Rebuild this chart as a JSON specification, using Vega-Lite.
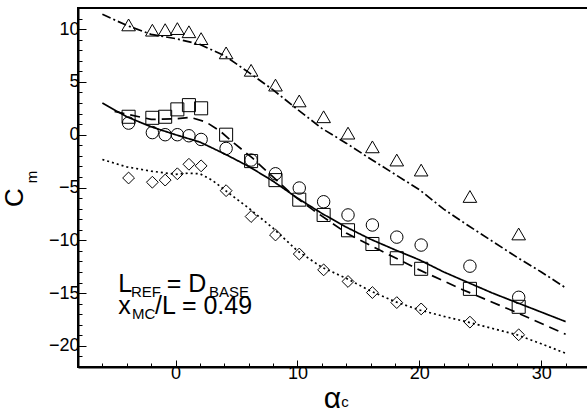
{
  "$schema": "https://vega.github.io/schema/vega-lite/v6.json",
  "width": 512,
  "height": 359,
  "autosize": {"type": "none"},
  "padding": {"left": 78, "top": 8, "right": 0, "bottom": 52},
  "background": "white",
  "config": {"view": {"stroke": "black", "strokeWidth": 2}, "font": "Liberation Sans"},
  "resolve": {"axis": {"x": "independent", "y": "independent"}},
  "datasets": {
    "lines": [
      {"s": "dd", "a": -6, "c": 11.4}, {"s": "dd", "a": -4, "c": 10.35}, {"s": "dd", "a": -2, "c": 9.5}, {"s": "dd", "a": 0, "c": 9.1}, {"s": "dd", "a": 2, "c": 8.55}, {"s": "dd", "a": 4, "c": 7.5}, {"s": "dd", "a": 6, "c": 5.9}, {"s": "dd", "a": 8, "c": 4.25}, {"s": "dd", "a": 10, "c": 2.4}, {"s": "dd", "a": 12, "c": 0.6}, {"s": "dd", "a": 14, "c": -0.8}, {"s": "dd", "a": 16, "c": -2.3}, {"s": "dd", "a": 18, "c": -3.75}, {"s": "dd", "a": 20, "c": -5.2}, {"s": "dd", "a": 22, "c": -7.05}, {"s": "dd", "a": 24, "c": -8.6}, {"s": "dd", "a": 26, "c": -10.1}, {"s": "dd", "a": 28, "c": -11.6}, {"s": "dd", "a": 30, "c": -13.0}, {"s": "dd", "a": 32, "c": -14.5},
      {"s": "solid", "a": -6, "c": 3.0}, {"s": "solid", "a": -4, "c": 1.7}, {"s": "solid", "a": -2, "c": 0.75}, {"s": "solid", "a": 0, "c": 0.0}, {"s": "solid", "a": 2, "c": -0.7}, {"s": "solid", "a": 4, "c": -1.8}, {"s": "solid", "a": 6, "c": -3.0}, {"s": "solid", "a": 8, "c": -4.4}, {"s": "solid", "a": 10, "c": -6.0}, {"s": "solid", "a": 12, "c": -7.45}, {"s": "solid", "a": 14, "c": -8.75}, {"s": "solid", "a": 16, "c": -9.9}, {"s": "solid", "a": 18, "c": -10.9}, {"s": "solid", "a": 20, "c": -11.85}, {"s": "solid", "a": 22, "c": -13.0}, {"s": "solid", "a": 24, "c": -14.0}, {"s": "solid", "a": 26, "c": -15.0}, {"s": "solid", "a": 28, "c": -15.9}, {"s": "solid", "a": 30, "c": -16.8}, {"s": "solid", "a": 32, "c": -17.7},
      {"s": "dash", "a": -5, "c": 2.2}, {"s": "dash", "a": -2, "c": 1.45}, {"s": "dash", "a": 0, "c": 1.5}, {"s": "dash", "a": 1.2, "c": 1.65}, {"s": "dash", "a": 2.5, "c": 1.2}, {"s": "dash", "a": 3.7, "c": 0.3}, {"s": "dash", "a": 4.8, "c": -0.8}, {"s": "dash", "a": 6.3, "c": -2.2}, {"s": "dash", "a": 8, "c": -4.0}, {"s": "dash", "a": 9.6, "c": -5.7}, {"s": "dash", "a": 11.25, "c": -7.1}, {"s": "dash", "a": 14, "c": -9.3}, {"s": "dash", "a": 16.7, "c": -10.9}, {"s": "dash", "a": 20, "c": -12.8}, {"s": "dash", "a": 23.6, "c": -14.7}, {"s": "dash", "a": 27.7, "c": -16.7}, {"s": "dash", "a": 32, "c": -18.9},
      {"s": "dot", "a": -6, "c": -2.35}, {"s": "dot", "a": -4, "c": -3.05}, {"s": "dot", "a": -2, "c": -3.45}, {"s": "dot", "a": 0, "c": -3.75}, {"s": "dot", "a": 1, "c": -3.65}, {"s": "dot", "a": 2, "c": -3.7}, {"s": "dot", "a": 3, "c": -4.3}, {"s": "dot", "a": 4, "c": -5.2}, {"s": "dot", "a": 6, "c": -6.95}, {"s": "dot", "a": 8, "c": -8.85}, {"s": "dot", "a": 10, "c": -11.0}, {"s": "dot", "a": 12, "c": -12.55}, {"s": "dot", "a": 14, "c": -13.6}, {"s": "dot", "a": 16, "c": -14.8}, {"s": "dot", "a": 18, "c": -15.8}, {"s": "dot", "a": 20, "c": -16.6}, {"s": "dot", "a": 22, "c": -17.2}, {"s": "dot", "a": 24, "c": -17.75}, {"s": "dot", "a": 26, "c": -18.35}, {"s": "dot", "a": 28, "c": -18.95}, {"s": "dot", "a": 30, "c": -19.8}, {"s": "dot", "a": 32, "c": -20.7}
    ],
    "pts": [
      {"s": "tri", "a": -3.85, "c": 10.4}, {"s": "tri", "a": -1.9, "c": 9.9}, {"s": "tri", "a": -0.85, "c": 9.95}, {"s": "tri", "a": 0.15, "c": 10.05}, {"s": "tri", "a": 1.1, "c": 9.75}, {"s": "tri", "a": 2.1, "c": 9.1}, {"s": "tri", "a": 4.15, "c": 7.75}, {"s": "tri", "a": 6.2, "c": 6.1}, {"s": "tri", "a": 8.2, "c": 4.7}, {"s": "tri", "a": 10.15, "c": 3.2}, {"s": "tri", "a": 12.15, "c": 1.7}, {"s": "tri", "a": 14.15, "c": 0.15}, {"s": "tri", "a": 16.15, "c": -1.15}, {"s": "tri", "a": 18.15, "c": -2.4}, {"s": "tri", "a": 20.15, "c": -3.35}, {"s": "tri", "a": 24.15, "c": -5.85}, {"s": "tri", "a": 28.15, "c": -9.4},
      {"s": "sq", "a": -3.85, "c": 1.7}, {"s": "sq", "a": -1.9, "c": 1.6}, {"s": "sq", "a": -0.85, "c": 1.7}, {"s": "sq", "a": 0.15, "c": 2.4}, {"s": "sq", "a": 1.1, "c": 2.8}, {"s": "sq", "a": 2.1, "c": 2.5}, {"s": "sq", "a": 4.15, "c": 0.0}, {"s": "sq", "a": 6.2, "c": -2.5}, {"s": "sq", "a": 8.2, "c": -4.3}, {"s": "sq", "a": 10.15, "c": -6.15}, {"s": "sq", "a": 12.15, "c": -7.6}, {"s": "sq", "a": 14.15, "c": -9.05}, {"s": "sq", "a": 16.15, "c": -10.35}, {"s": "sq", "a": 18.15, "c": -11.7}, {"s": "sq", "a": 20.15, "c": -12.7}, {"s": "sq", "a": 24.15, "c": -14.6}, {"s": "sq", "a": 28.15, "c": -16.3},
      {"s": "cir", "a": -3.85, "c": 1.1}, {"s": "cir", "a": -1.9, "c": 0.2}, {"s": "cir", "a": -0.85, "c": 0.0}, {"s": "cir", "a": 0.15, "c": 0.0}, {"s": "cir", "a": 1.1, "c": -0.1}, {"s": "cir", "a": 2.1, "c": -0.45}, {"s": "cir", "a": 4.15, "c": -1.3}, {"s": "cir", "a": 6.2, "c": -2.4}, {"s": "cir", "a": 8.2, "c": -3.7}, {"s": "cir", "a": 10.15, "c": -5.05}, {"s": "cir", "a": 12.15, "c": -6.35}, {"s": "cir", "a": 14.15, "c": -7.6}, {"s": "cir", "a": 16.15, "c": -8.55}, {"s": "cir", "a": 18.15, "c": -9.7}, {"s": "cir", "a": 20.15, "c": -10.45}, {"s": "cir", "a": 24.15, "c": -12.45}, {"s": "cir", "a": 28.15, "c": -15.4},
      {"s": "dia", "a": -3.85, "c": -4.1}, {"s": "dia", "a": -1.9, "c": -4.5}, {"s": "dia", "a": -0.85, "c": -4.3}, {"s": "dia", "a": 0.15, "c": -3.7}, {"s": "dia", "a": 1.1, "c": -2.8}, {"s": "dia", "a": 2.1, "c": -2.95}, {"s": "dia", "a": 4.15, "c": -5.3}, {"s": "dia", "a": 6.2, "c": -7.75}, {"s": "dia", "a": 8.2, "c": -9.5}, {"s": "dia", "a": 10.15, "c": -11.3}, {"s": "dia", "a": 12.15, "c": -12.8}, {"s": "dia", "a": 14.15, "c": -13.9}, {"s": "dia", "a": 16.15, "c": -14.95}, {"s": "dia", "a": 18.15, "c": -15.9}, {"s": "dia", "a": 20.15, "c": -16.5}, {"s": "dia", "a": 24.15, "c": -17.75}, {"s": "dia", "a": 28.15, "c": -18.95}
    ],
    "bigtext": [
      {"a": -4.69, "c": -14.87, "t": "L"},
      {"a": -0.72, "c": -14.87, "t": "= D"},
      {"a": -4.69, "c": -17.01, "t": "x"},
      {"a": -1.68, "c": -17.01, "t": "/L = 0.49"}
    ],
    "smalltext": [
      {"a": -3.65, "c": -15.4, "t": "REF"},
      {"a": 2.75, "c": -15.4, "t": "BASE"},
      {"a": -3.57, "c": -17.48, "t": "MC"}
    ],
    "xsub": [{"a": 13.9, "c": -25.3, "t": "c"}],
    "ysub": [{"a": -11.77, "c": -4.0, "t": "m"}]
  },
  "layer": [
    {
      "data": {"name": "lines"},
      "mark": {"type": "line", "color": "black", "strokeWidth": 1.7},
      "encoding": {
        "x": {"field": "a", "type": "quantitative", "scale": {"domain": [-8, 34], "nice": false, "zero": false},
          "axis": {
            "orient": "bottom",
            "values": [0, 10, 20, 30],
            "tickSize": -7, "tickColor": "black", "tickWidth": 1,
            "grid": false, "domainColor": "black", "domainWidth": 2,
            "labelFontSize": 18, "labelColor": "black", "labelPadding": 4, "labelFlush": false,
            "title": "α", "titleFontSize": 30, "titleFontWeight": "normal", "titleColor": "black",
            "titleX": 254, "titleY": 31, "titleAlign": "center", "titleBaseline": "middle"
          }},
        "y": {"field": "c", "type": "quantitative", "scale": {"domain": [-22, 12], "nice": false, "zero": false},
          "axis": {
            "orient": "left",
            "values": [-20, -15, -10, -5, 0, 5, 10],
            "tickSize": -8, "tickColor": "black", "tickWidth": 1,
            "grid": false, "domainColor": "black", "domainWidth": 2,
            "labelFontSize": 18, "labelColor": "black", "labelPadding": 7, "labelFlush": false,
            "title": "C", "titleFontSize": 26, "titleFontWeight": "normal", "titleColor": "black",
            "titleX": -64, "titleY": 189, "titleAngle": -90, "titleAlign": "center", "titleBaseline": "middle"
          }},
        "strokeDash": {"field": "s", "type": "nominal", "legend": null,
          "scale": {"domain": ["dd", "solid", "dash", "dot"], "range": [[9, 3, 2, 3], [1, 0], [10, 6], [2, 3]]}},
        "detail": {"field": "s"}
      }
    },
    {
      "data": {"name": "pts"},
      "mark": {"type": "point", "filled": false, "stroke": "black", "strokeWidth": 1, "opacity": 1},
      "encoding": {
        "x": {"field": "a", "type": "quantitative",
          "axis": {"orient": "bottom", "values": [-6, -4, -2, 2, 4, 6, 8, 12, 14, 16, 18, 22, 24, 26, 28, 32],
            "tickSize": -4, "tickColor": "black", "tickWidth": 1, "labels": false, "domain": false, "grid": false, "title": null}},
        "y": {"field": "c", "type": "quantitative",
          "axis": {"orient": "left", "values": [-22, -21, -19, -18, -17, -16, -14, -13, -12, -11, -9, -8, -7, -6, -4, -3, -2, -1, 1, 2, 3, 4, 6, 7, 8, 9, 11],
            "tickSize": -4, "tickColor": "black", "tickWidth": 1, "labels": false, "domain": false, "grid": false, "title": null}},
        "shape": {"field": "s", "type": "nominal", "legend": null,
          "scale": {"domain": ["tri", "sq", "cir", "dia"], "range": ["triangle-up", "square", "circle", "diamond"]}},
        "size": {"field": "s", "type": "nominal", "legend": null,
          "scale": {"domain": ["tri", "sq", "cir", "dia"], "range": [185, 140, 200, 225]}}
      }
    },
    {
      "data": {"name": "bigtext"},
      "mark": {"type": "text", "align": "left", "baseline": "alphabetic", "fontSize": 25, "color": "black"},
      "encoding": {
        "x": {"field": "a", "type": "quantitative", "axis": null},
        "y": {"field": "c", "type": "quantitative", "axis": null},
        "text": {"field": "t"}
      }
    },
    {
      "data": {"name": "smalltext"},
      "mark": {"type": "text", "align": "left", "baseline": "alphabetic", "fontSize": 15, "color": "black"},
      "encoding": {
        "x": {"field": "a", "type": "quantitative", "axis": null},
        "y": {"field": "c", "type": "quantitative", "axis": null},
        "text": {"field": "t"}
      }
    },
    {
      "data": {"name": "xsub"},
      "mark": {"type": "text", "align": "center", "baseline": "middle", "fontSize": 15, "color": "black"},
      "encoding": {
        "x": {"field": "a", "type": "quantitative", "axis": null},
        "y": {"field": "c", "type": "quantitative", "axis": null},
        "text": {"field": "t"}
      }
    },
    {
      "data": {"name": "ysub"},
      "mark": {"type": "text", "align": "center", "baseline": "middle", "fontSize": 15, "angle": 270, "color": "black"},
      "encoding": {
        "x": {"field": "a", "type": "quantitative", "axis": null},
        "y": {"field": "c", "type": "quantitative", "axis": null},
        "text": {"field": "t"}
      }
    }
  ]
}
